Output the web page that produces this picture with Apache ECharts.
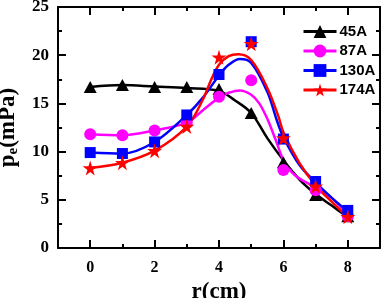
<!DOCTYPE html>
<html>
<head>
<meta charset="utf-8">
<script src="https://cdn.jsdelivr.net/npm/echarts@6/dist/echarts.min.js"></script>
<style>html,body{margin:0;padding:0;background:#fff}#c{width:382px;height:298px}</style>
</head>
<body>
<div id="c"></div>
<script>
// measured points
const rValues = [0, 1, 2, 3, 4, 5, 6, 7, 8];
const p45 = [16.7, 16.9, 16.7, 16.7, 16.5, 14.0, 8.9, 5.5, 3.3];
const p87 = [11.8, 11.7, 12.2, 13.0, 15.7, 17.4, 8.1, 6.0, 3.3];
const p130 = [9.9, 9.8, 11.0, 13.8, 18.0, 21.4, 11.3, 6.9, 3.9];
const p174 = [8.3, 8.85, 10.1, 12.6, 19.8, 21.2, 11.4, 6.4, 3.25];

// fitted curves
const fitR45 = [0, 1, 2, 3, 4, 4.5, 5, 5.5, 6, 6.5, 7, 7.5, 8];
const fit45 = [16.7, 16.9, 16.75, 16.6, 16.3, 15.3, 14.0, 11.4, 9.1, 7.1, 5.6, 4.4, 3.2];
const fitR87 = [0, 1, 2, 3, 3.5, 4, 4.3, 4.65, 5, 5.25, 5.5, 5.75, 6, 6.25, 6.5, 7, 7.5, 8];
const fit87 = [11.8, 11.7, 12.2, 13.0, 14.3, 15.6, 16.1, 16.35, 15.9, 15.0, 13.4, 11.3, 9.1, 7.9, 7.2, 6.3, 5.2, 3.4];
const fitR130 = [0, 1, 2, 3, 3.5, 4, 4.3, 4.65, 5, 5.5, 5.8, 6, 6.5, 7, 7.5, 8];
const fit130 = [9.9, 9.8, 11.0, 13.8, 15.6, 17.9, 19.0, 19.6, 19.2, 16.2, 13.2, 11.5, 8.6, 6.8, 5.2, 3.8];
const fitR174 = [0, 1, 2, 3, 3.5, 3.75, 4, 4.3, 4.6, 5, 5.5, 5.85, 6, 6.5, 7, 7.5, 8];
const fit174 = [8.3, 8.85, 10.1, 12.6, 15.4, 17.4, 19.0, 19.9, 20.1, 19.5, 16.6, 13.6, 12.0, 8.8, 6.5, 4.8, 3.2];

const names = ['45A', '87A', '130A', '174A'];
const colors = ['#000000', '#ff00ff', '#0000ff', '#ff0000'];
const xMajor = [0, 2, 4, 6, 8];
const xMinor = [1, 3, 5, 7];

const star = 'path://M50,0 L61,35 L98,35 L68,57 L79,91 L50,70 L21,91 L32,57 L2,35 L39,35 Z';
const symbols = ['triangle', 'circle', 'rect', star];
const symSizes = [[13, 12], 12, 11, 15];

const pts = [p45, p87, p130, p174];
const fitX = [fitR45, fitR87, fitR130, fitR174];
const fitY = [fit45, fit87, fit130, fit174];

const serif = '"Liberation Serif","Times New Roman",serif';
function axLine(show) {
  return { show: show, onZero: false, lineStyle: { color: '#000', width: 2 } };
}

function xAx(pos, ticks, len, labels, line) {
  return {
    type: 'value', position: pos, min: -1, max: 9,
    axisLine: axLine(line),
    axisTick: { show: true, inside: true, length: len, customValues: ticks, lineStyle: { color: '#000', width: 2 } },
    axisLabel: labels ? { show: true, customValues: xMajor, margin: 12, color: '#000', fontFamily: serif, fontWeight: 'bold', fontSize: 16 } : { show: false },
    splitLine: { show: false }
  };
}
function yAx(pos, labels) {
  return {
    type: 'value', position: pos, min: 0, max: 25, interval: 5,
    axisLine: axLine(true),
    axisTick: { show: true, inside: true, length: 8, lineStyle: { color: '#000', width: 2 } },
    minorTick: { show: true, splitNumber: 2, length: 4, lineStyle: { color: '#000', width: 2 } },
    axisLabel: labels ? { show: true, margin: 9, color: '#000', fontFamily: serif, fontWeight: 'bold', fontSize: 17 } : { show: false },
    splitLine: { show: false }, minorSplitLine: { show: false }
  };
}

const xAxes = [
  Object.assign(xAx('bottom', xMajor, 8, true, true), {
    name: 'r(cm)', nameLocation: 'middle', nameGap: 27,
    nameTextStyle: { color: '#000', fontFamily: serif, fontWeight: 'bold', fontSize: 23 }
  }),
  xAx('bottom', xMinor, 4, false, false),
  xAx('top', xMajor, 8, false, true),
  xAx('top', xMinor, 4, false, false)
];
const yAxes = [
  Object.assign(yAx('left', true), {
    name: '{a|p}{b|e}{a|(mPa)}', nameLocation: 'middle', nameGap: 34, nameRotate: 90,
    nameTextStyle: { color: '#000', fontFamily: serif, fontWeight: 'bold', fontSize: 22,
      rich: { a: { fontFamily: serif, fontWeight: 'bold', fontSize: 23, color: '#000' },
              b: { fontFamily: serif, fontWeight: 'bold', fontSize: 15, color: '#000', verticalAlign: 'bottom', padding: [12, 0, 0, 0] } } }
  }),
  yAx('right', false)
];

const series = [];
names.forEach((n, i) => {
  series.push({
    name: n, type: 'line', smooth: 0.35, xAxisIndex: 0, yAxisIndex: 0,
    symbol: symbols[i], symbolSize: symSizes[i], showSymbol: false,
    data: fitX[i].map((x, k) => [x, fitY[i][k]]),
    lineStyle: { color: colors[i], width: 2.5 }, itemStyle: { color: colors[i] },
    z: 2 + i
  });
});
names.forEach((n, i) => {
  series.push({
    name: n, type: 'scatter', xAxisIndex: 0, yAxisIndex: 0,
    symbol: symbols[i], symbolSize: symSizes[i],
    data: rValues.map((x, k) => [x, pts[i][k]]),
    itemStyle: { color: colors[i], opacity: 1 },
    z: 10 + i
  });
});

const chart = echarts.init(document.getElementById('c'), null, { renderer: 'canvas' });
chart.setOption({
  animation: false,
  backgroundColor: '#fff',
  grid: { left: 58, right: 2, top: 7, bottom: 50, containLabel: false, outerBoundsMode: 'none' },
  xAxis: xAxes,
  yAxis: yAxes,
  legend: {
    data: names, orient: 'vertical', left: 297, top: 19,
    itemWidth: 33, itemHeight: 16, itemGap: 4.5,
    lineStyle: { width: 3 },
    textStyle: { color: '#000', fontFamily: '"Liberation Sans",Arial,sans-serif', fontWeight: 'bold', fontSize: 15, padding: [0, 0, 0, -2] }
  },
  series: series
});
</script>
</body>
</html>
